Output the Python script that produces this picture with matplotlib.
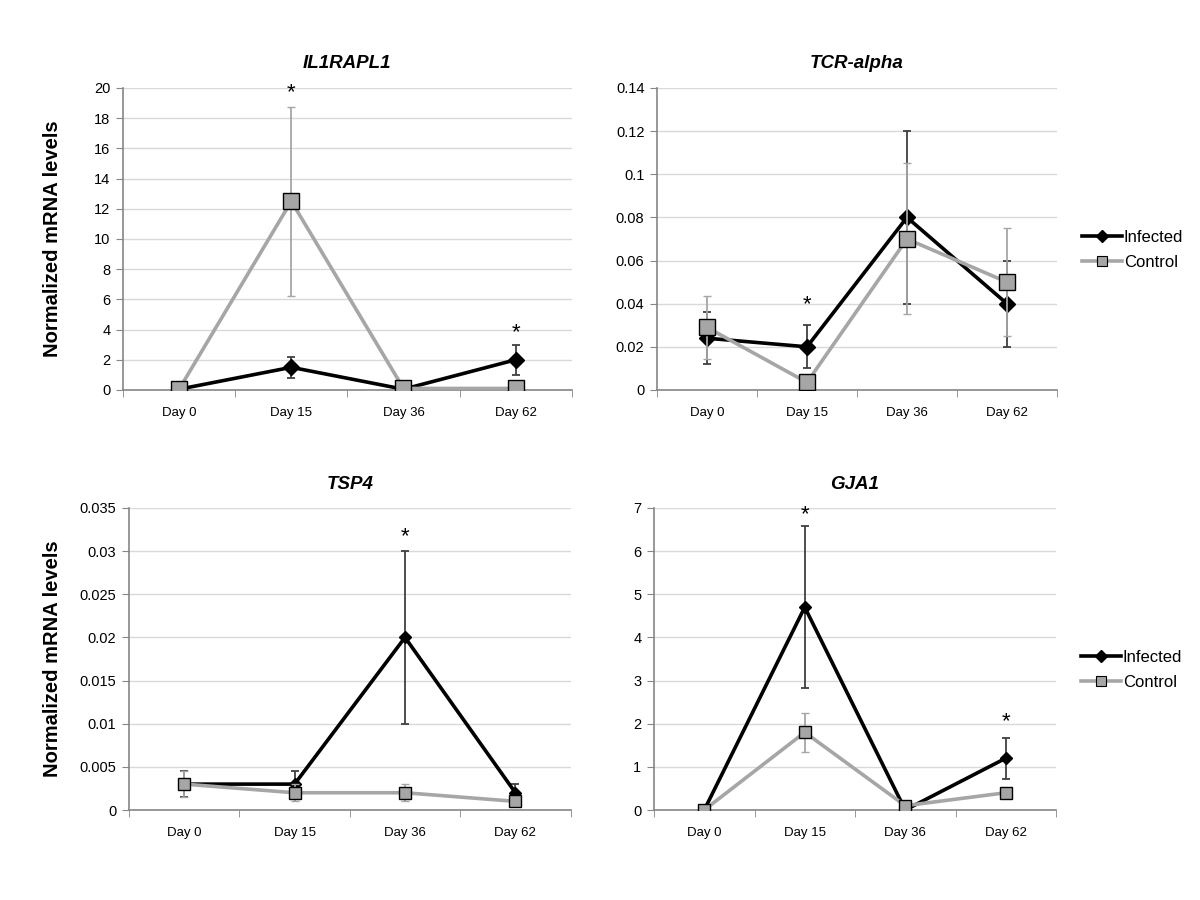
import numpy as np
import matplotlib.pyplot as plt
from matplotlib.lines import Line2D

plt.rcParams["font.family"] = ["Liberation Sans", "DejaVu Sans"]

days = ["Day 0", "Day 15", "Day 36", "Day 62"]

# IL1RAPL1
il_inf = [0.05, 1.5, 0.05, 2.0]
il_inf_err = [0, 0.7, 0, 1.0]
il_ctl = [0.05, 12.5, 0.1, 0.1]
il_ctl_err = [0, 6.25, 0, 0]
il_stars = [(1, 19.7), (3, 3.8)]

# TCR-alpha
tcr_inf = [0.024, 0.020, 0.080, 0.040]
tcr_inf_err = [0.012, 0.010, 0.040, 0.020]
tcr_ctl = [0.029, 0.0035, 0.070, 0.050]
tcr_ctl_err = [0.0145, 0, 0.035, 0.025]
tcr_stars = [(1, 0.0395)]

# TSP4
tsp_inf = [0.003, 0.003, 0.020, 0.002]
tsp_inf_err = [0.0015, 0.0015, 0.010, 0.001]
tsp_ctl = [0.003, 0.002, 0.002, 0.001]
tsp_ctl_err = [0.0015, 0.001, 0.001, 0]
tsp_stars = [(2, 0.0317)]

# GJA1
gja_inf = [0.0, 4.7, 0.0, 1.2]
gja_inf_err = [0, 1.88, 0, 0.48]
gja_ctl = [0.0, 1.8, 0.1, 0.4]
gja_ctl_err = [0, 0.45, 0, 0]
gja_stars = [(1, 6.85), (3, 2.05)]

panels = [
    ("IL1RAPL1", il_inf, il_inf_err, il_ctl, il_ctl_err, il_stars, 20, 2),
    ("TCR-alpha", tcr_inf, tcr_inf_err, tcr_ctl, tcr_ctl_err, tcr_stars, 0.14, 0.02),
    ("TSP4", tsp_inf, tsp_inf_err, tsp_ctl, tsp_ctl_err, tsp_stars, 0.035, 0.005),
    ("GJA1", gja_inf, gja_inf_err, gja_ctl, gja_ctl_err, gja_stars, 7, 1),
]
rects = [
    [0.1025, 0.5667, 0.374, 0.3356],
    [0.5475, 0.5667, 0.3333, 0.3356],
    [0.1075, 0.1, 0.368, 0.3356],
    [0.545, 0.1, 0.335, 0.3356],
]
sq_size = [11, 11, 9, 9]
dm_size = [8, 8, 6, 6]

fig = plt.figure(figsize=(12, 9), dpi=100)
spine_c = "#868686"
grey = "#a6a6a6"

for i, (title, inf, inf_e, ctl, ctl_e, stars, ymax, step) in enumerate(panels):
    ax = fig.add_axes(rects[i])
    x = np.arange(len(days))
    ax.errorbar(x, inf, yerr=inf_e, color="black", lw=2.6, marker="D",
                ms=dm_size[i], mfc="black", mec="black",
                ecolor="#404040", elinewidth=1.3, capsize=3, capthick=1.3,
                zorder=3)
    ax.errorbar(x, ctl, yerr=ctl_e, color=grey, lw=2.6, marker="s",
                ms=sq_size[i], mfc=grey, mec="black", mew=1.0,
                ecolor=grey, elinewidth=1.3, capsize=3, capthick=1.3,
                zorder=4)
    for sx, sy in stars:
        ax.text(sx, sy, "*", ha="center", va="center", fontsize=16)
    ax.set_xlim(-0.5, 3.5)
    ax.set_ylim(0, ymax)
    yt = np.arange(0, ymax + step / 2, step)
    ax.set_yticks(yt)
    ax.set_yticklabels([f"{v:g}" for v in yt], fontsize=10.5)
    ax.set_xticks(x)
    ax.set_xticklabels(days, fontsize=9.5)
    ax.set_xticks([-0.5, 0.5, 1.5, 2.5, 3.5], minor=True)
    ax.tick_params(axis="x", which="major", length=0, pad=12)
    ax.tick_params(axis="x", which="minor", length=5, color=spine_c, direction="out")
    ax.tick_params(axis="y", length=5, color=spine_c, direction="out", pad=4)
    ax.grid(axis="y", color="#d9d9d9", lw=1.0)
    ax.set_axisbelow(True)
    for s in ["top", "right"]:
        ax.spines[s].set_visible(False)
    for s in ["left", "bottom"]:
        ax.spines[s].set_color(spine_c)
        ax.spines[s].set_linewidth(1.2)
    ax.set_title(title, fontsize=13.5, fontweight="bold", style="italic", pad=14)
    if i % 2 == 0:
        ax.set_ylabel("Normalized mRNA levels", fontsize=14.5, fontweight="bold")
        ax.yaxis.set_label_coords((62 - rects[i][0] * 1200) / (rects[i][2] * 1200), 0.5)
    else:
        handles = [
            Line2D([], [], color="black", lw=2.6, marker="D", ms=6.5, mfc="black"),
            Line2D([], [], color=grey, lw=2.6, marker="s", ms=7, mfc=grey,
                   mec="black", mew=0.8),
        ]
        ax.legend(handles, ["Infected", "Control"], loc="center left",
                  bbox_to_anchor=(1.025, 0.465), frameon=False, fontsize=12,
                  handlelength=2.4, handletextpad=0.1, labelspacing=0.6)

fig.savefig("out.png", dpi=100)
